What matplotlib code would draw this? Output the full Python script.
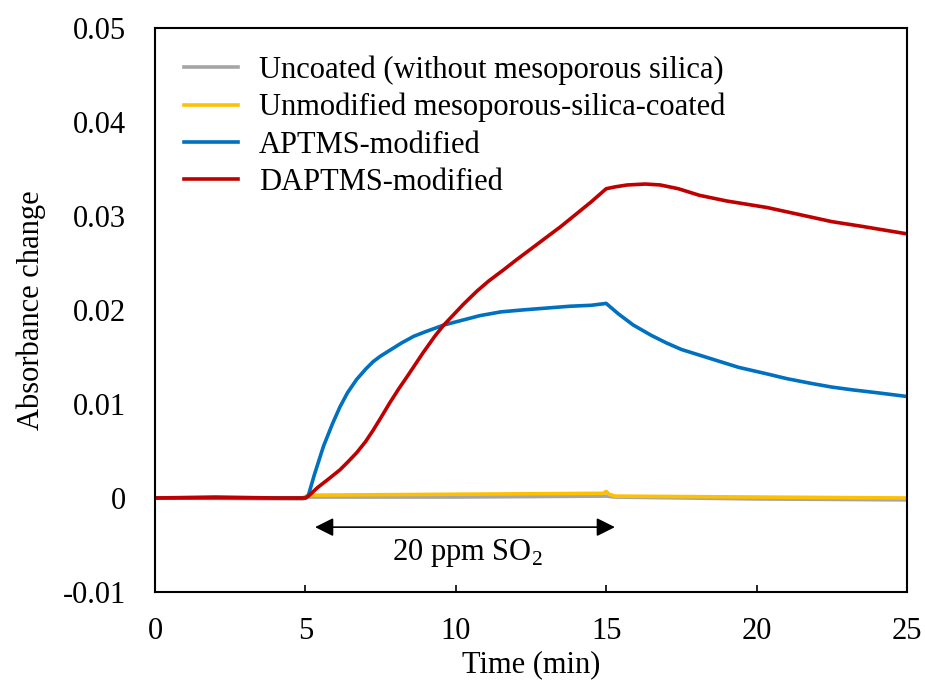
import numpy as np
import matplotlib
matplotlib.use("Agg")
from matplotlib import pyplot as plt

plt.rcParams['font.family'] = ['Liberation Serif', 'DejaVu Serif']
plt.rcParams['mathtext.fontset'] = 'custom'
plt.rcParams['mathtext.rm'] = 'Liberation Serif'

# time (min) and absorbance change
t_red = [0, 2, 4, 5, 5.1, 5.4, 5.8, 6.15, 6.4, 6.7, 7.0, 7.25, 7.5, 7.8, 8.1, 8.4, 8.9, 9.3, 9.6,
         10.25, 10.7, 11.1, 11.6, 12, 12.5, 13, 13.5, 14, 14.5, 15,
         15.3, 15.7, 16.3, 16.8, 17.4, 18.1, 19, 20.35, 21.5, 22.5, 23.5, 25]
a_red = [0, 0.0001, 0, 0, 0.0002, 0.0011, 0.0021, 0.003, 0.0038, 0.0048, 0.006, 0.0072, 0.0085,
         0.0101, 0.0116, 0.0130, 0.0154, 0.0172, 0.0184,
         0.0206, 0.0220, 0.0231, 0.0243, 0.0253, 0.0265, 0.0277, 0.0289, 0.0302, 0.0315, 0.0329,
         0.0331, 0.0333, 0.0334, 0.0333, 0.0329, 0.0322, 0.0316, 0.0309, 0.0301, 0.0294, 0.0289,
         0.0281]

t_blue = [0, 2, 4, 5, 5.1, 5.3, 5.6, 5.9, 6.15, 6.4, 6.7, 7.0, 7.25, 7.5, 7.8, 8.2, 8.6, 9.0,
          9.6, 10.2, 10.8, 11.5, 12.2, 13, 13.8, 14.5, 15,
          15.4, 15.9, 16.5, 17, 17.5, 18.1, 18.7, 19.4, 20.35, 21, 21.8, 22.5, 23.2, 24, 25]
a_blue = [0, 0, 0, 0, 0.0003, 0.0025, 0.0055, 0.0079, 0.0097, 0.0112, 0.0126, 0.0137, 0.0145,
          0.0151, 0.0157, 0.0165, 0.0172, 0.0177,
          0.0184, 0.0189, 0.0194, 0.0198, 0.0200, 0.0202, 0.0204, 0.0205, 0.0207,
          0.0196, 0.0184, 0.0173, 0.0165, 0.0158, 0.0152, 0.0146, 0.0139, 0.0132, 0.0127,
          0.0122, 0.0118, 0.0115, 0.0112, 0.0108]

t_yel = [0, 4.9, 5.1, 10, 14.9, 15.0, 15.1, 15.3, 20, 25]
a_yel = [0, 0, 0.0003, 0.0004, 0.0005, 0.0007, 0.0004, 0.0002, 0.0001, 0.0]

t_gray = [0, 4.9, 5.1, 10, 15, 15.3, 20, 25]
a_gray = [0, -0.0001, 0.0001, 0.0001, 0.0002, 0.0001, -0.0001, -0.0002]

labels = ['Uncoated (without mesoporous silica)', 'Unmodified mesoporous-silica-coated',
          'APTMS-modified', 'DAPTMS-modified']
colors = ['#A5A5A5', '#FFC000', '#0070C0', '#C00000']

fig = plt.figure(figsize=(9.25, 6.81), dpi=100)
ax = fig.add_axes([0.1676, 0.1307, 0.8129, 0.8282])

ax.plot(t_gray, a_gray, color=colors[0], lw=2.6, label=labels[0])
ax.plot(t_yel, a_yel, color=colors[1], lw=2.6, label=labels[1])
ax.plot(t_blue, a_blue, color=colors[2], lw=2.6, label=labels[2])
ax.plot(t_red, a_red, color=colors[3], lw=2.6, label=labels[3])

ax.set_xlim(0, 25)
ax.set_ylim(-0.01, 0.05)
ax.set_xticks([0, 5, 10, 15, 20, 25])
ax.set_yticks([-0.01, 0, 0.01, 0.02, 0.03, 0.04, 0.05])
ax.set_yticklabels(['-0.01', '0', '0.01', '0.02', '0.03', '0.04', '0.05'])
ax.tick_params(axis='x', direction='in', length=5, width=1.2, pad=18, labelsize=22)
ax.tick_params(axis='y', length=0, pad=21, labelsize=22)
for s in ax.spines.values():
    s.set_linewidth(1.5)

ax.set_xlabel('Time (min)', fontsize=22, labelpad=3)
ax.set_ylabel('Absorbance change', fontsize=22, labelpad=12)

ax.annotate('', xy=(5.32, -0.0031), xytext=(15.29, -0.0031),
            arrowprops=dict(arrowstyle='<|-|>', color='black', lw=1.2, mutation_scale=28,
                            shrinkA=0, shrinkB=0))
ax.text(10.4, -0.0058, '20 ppm SO$_2$', fontsize=22, ha='center', va='center')

leg = ax.legend(loc='upper left', frameon=False, fontsize=22, handlelength=1.76,
                handletextpad=0.69, labelspacing=0.27, borderaxespad=0.3,
                bbox_to_anchor=(0.01, 0.99))

fig.savefig('out.png', dpi=100)
